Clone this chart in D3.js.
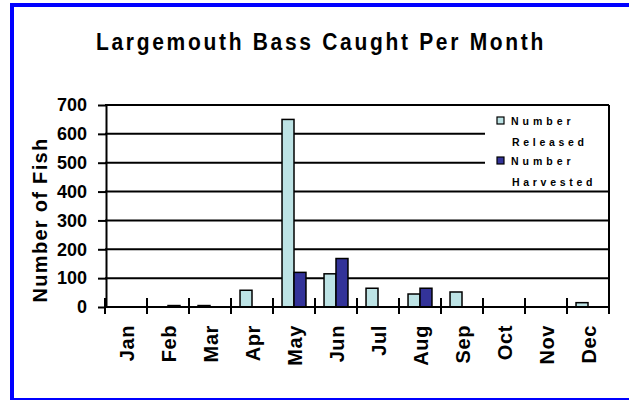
<!DOCTYPE html>
<html>
<head>
<meta charset="utf-8">
<script src="https://cdn.jsdelivr.net/npm/d3@7"></script>
<style>
  body { margin: 0; background: #fff; }
</style>
</head>
<body>
<div id="chart"></div>
<script>
const months = ['Jan', 'Feb', 'Mar', 'Apr', 'May', 'Jun', 'Jul', 'Aug', 'Sep', 'Oct', 'Nov', 'Dec'];
const released = [0, 0, 5, 58, 650, 115, 65, 45, 52, 0, 0, 15];
const harvested = [0, 5, 0, 0, 120, 168, 0, 65, 0, 0, 0, 0];
const seriesNames = ['Number Released', 'Number Harvested'];
const seriesColors = ['#bde3e5', '#333399'];
const yTicks = [0, 100, 200, 300, 400, 500, 600, 700];

const W = 629, H = 400;
const plot = { left: 105, right: 609, top: 105, bottom: 307 };
const FONT = '"Liberation Sans", Arial, sans-serif';

const svg = d3.select('#chart').append('svg')
  .attr('width', W).attr('height', H);

function label(sel, size, spacing) {
  return sel.style('font-family', FONT)
    .style('font-weight', 'bold')
    .style('font-size', size + 'px')
    .style('letter-spacing', (spacing || 0) + 'px')
    .attr('fill', '#000');
}

// blue frame, runs off the right edge like the original
svg.append('rect')
  .attr('x', 12).attr('y', 5)
  .attr('width', 640).attr('height', 395)
  .attr('fill', 'none').attr('stroke', '#0000ff').attr('stroke-width', 4);

// title is a bit taller than normal in the original
svg.append('text')
  .attr('transform', 'translate(321,50) scale(1,1.15)')
  .attr('text-anchor', 'middle')
  .call(label, 21, 2.7)
  .text('Largemouth Bass Caught Per Month');

const x0 = d3.scaleBand().domain(months)
  .range([plot.left, plot.right]).paddingInner(0.43).paddingOuter(0.215);
const x1 = d3.scaleBand().domain(seriesNames).range([0, x0.bandwidth()]);
const y = d3.scaleLinear().domain([0, 700]).range([plot.bottom, plot.top]);

const step = x0.step();
const g = svg.append('g');

// gridlines
g.selectAll('line.grid').data(yTicks.filter(d => d > 0)).enter().append('line')
  .attr('class', 'grid')
  .attr('x1', plot.left).attr('x2', plot.right)
  .attr('y1', d => y(d)).attr('y2', d => y(d))
  .attr('stroke', '#000').attr('stroke-width', 2);

// right border
g.append('line')
  .attr('x1', plot.right).attr('x2', plot.right)
  .attr('y1', plot.top).attr('y2', plot.bottom)
  .attr('stroke', '#000').attr('stroke-width', 2);

// bars
const rows = months.map((m, i) => ({ month: m, values: [released[i], harvested[i]] }));
const groups = g.selectAll('g.month').data(rows).enter().append('g')
  .attr('class', 'month')
  .attr('transform', d => `translate(${x0(d.month)},0)`);

groups.selectAll('rect')
  .data(d => d.values.map((v, k) => ({ key: seriesNames[k], value: v, color: seriesColors[k] })).filter(d => d.value > 0))
  .enter().append('rect')
  .attr('x', d => x1(d.key))
  .attr('width', x1.bandwidth())
  .attr('y', d => y(d.value))
  .attr('height', d => y(0) - y(d.value))
  .attr('fill', d => d.color)
  .attr('stroke', '#000').attr('stroke-width', 1.5);

// y axis
const yAxis = svg.append('g')
  .attr('transform', `translate(${plot.left + 1},0)`)
  .call(d3.axisLeft(y).tickValues(yTicks).tickSize(8).tickPadding(11).tickSizeOuter(0));
yAxis.select('.domain').attr('stroke-width', 2);
yAxis.selectAll('.tick line').attr('stroke-width', 2);
yAxis.selectAll('.tick text').call(label, 18, 0);

// x axis line and ticks at category boundaries
g.append('line')
  .attr('x1', plot.left).attr('x2', plot.right)
  .attr('y1', y(0)).attr('y2', y(0))
  .attr('stroke', '#000').attr('stroke-width', 2);
const bounds = d3.range(months.length + 1).map(i => plot.left + i * step);
g.selectAll('line.xtick').data(bounds).enter().append('line')
  .attr('class', 'xtick')
  .attr('x1', d => d).attr('x2', d => d)
  .attr('y1', y(0) - 9).attr('y2', y(0) + 7)
  .attr('stroke', '#000').attr('stroke-width', 2);

svg.selectAll('text.xlab').data(months).enter().append('text')
  .attr('class', 'xlab')
  .attr('transform', d => `translate(${x0(d) + x0.bandwidth() / 2 + 7.5},325) rotate(-90)`)
  .attr('text-anchor', 'end')
  .call(label, 20, 0.6)
  .text(d => d);

svg.append('text')
  .attr('transform', 'translate(47,220) rotate(-90)')
  .attr('text-anchor', 'middle')
  .call(label, 20, 1.3)
  .text('Number of Fish');

// legend
const legend = svg.append('g');
legend.append('rect')
  .attr('x', 485).attr('y', 108).attr('width', 123).attr('height', 81)
  .attr('fill', '#fff');
const legendRows = seriesNames.map((n, k) => ({ words: n.split(' '), color: seriesColors[k] }));
const li = legend.selectAll('g.item').data(legendRows).enter().append('g')
  .attr('class', 'item')
  .attr('transform', (d, k) => `translate(0,${k * 40})`);
li.append('rect')
  .attr('x', 497).attr('y', 117).attr('width', 7).attr('height', 7)
  .attr('fill', d => d.color).attr('stroke', '#000').attr('stroke-width', 1.2);
li.append('text')
  .attr('x', 511).attr('y', 125)
  .call(label, 10.5, 4)
  .text(d => d.words[0]);
li.append('text')
  .attr('x', 512).attr('y', 146)
  .call(label, 10.5, 3.7)
  .text(d => d.words[1]);
</script>
</body>
</html>
